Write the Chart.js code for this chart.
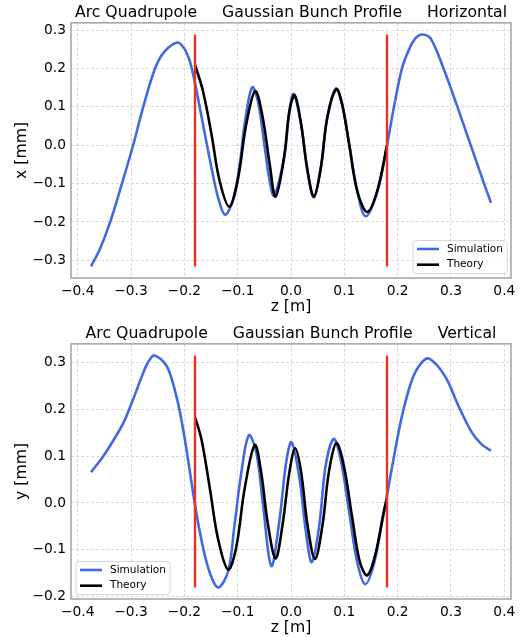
<!DOCTYPE html>
<html>
<head>
<meta charset="utf-8">
<script src="https://cdn.jsdelivr.net/npm/chart.js@4.4.1/dist/chart.umd.min.js"></script>
<style>
  html, body { margin: 0; padding: 0; background: #fff; }
  canvas { position: absolute; left: 0; }
  #top { top: 0; }
  #bottom { top: 321px; }
</style>
</head>
<body>
<canvas id="top" width="520" height="316"></canvas>
<canvas id="bottom" width="520" height="316"></canvas>
<script>
// horizontal plane: z [m] and x [mm]
const zSimH = [-0.375, -0.358, -0.339, -0.317, -0.296, -0.277, -0.255, -0.238, -0.213, -0.200,
  -0.190, -0.182, -0.171, -0.159, -0.146, -0.137, -0.124, -0.109, -0.096, -0.087,
  -0.073, -0.062, -0.050, -0.041, -0.032, -0.013, -0.003, 0.005, 0.019,
  0.031, 0.043, 0.056, 0.068, 0.084, 0.096, 0.109, 0.124, 0.140, 0.162,
  0.180, 0.193, 0.208, 0.222, 0.234, 0.246, 0.262, 0.286, 0.312, 0.337, 0.362, 0.375];
const xSim = [-0.316, -0.270, -0.200, -0.100, 0.000, 0.100, 0.200, 0.243, 0.268, 0.252,
  0.220, 0.175, 0.098, 0.011, -0.080, -0.135, -0.181, -0.144, -0.049, 0.054,
  0.151, 0.115, 0.003, -0.085, -0.131, -0.032, 0.089, 0.134, 0.054,
  -0.067, -0.136, -0.058, 0.072, 0.148, 0.106, 0.003, -0.118, -0.185, -0.120,
  0.000, 0.100, 0.200, 0.252, 0.280, 0.289, 0.278, 0.200, 0.100, 0.000, -0.100, -0.150];
const zThH = [-0.180, -0.165, -0.149, -0.134, -0.116, -0.100, -0.084, -0.067, -0.053, -0.040,
  -0.029, -0.013, -0.003, 0.007, 0.019, 0.031, 0.043, 0.056, 0.068, 0.085,
  0.096, 0.109, 0.124, 0.143, 0.162, 0.180];
const xTh = [0.210, 0.141, 0.028, -0.092, -0.160, -0.092, 0.054, 0.141, 0.072, -0.049,
  -0.134, -0.032, 0.089, 0.130, 0.054, -0.067, -0.134, -0.058, 0.072, 0.146,
  0.106, 0.003, -0.118, -0.174, -0.118, 0.000];

// vertical plane: z [m] and y [mm]
const zSimV = [-0.375, -0.355, -0.339, -0.314, -0.296, -0.277, -0.266, -0.256, -0.233, -0.215,
  -0.205, -0.196, -0.184, -0.171, -0.155, -0.137, -0.118, -0.106, -0.093, -0.079,
  -0.065, -0.053, -0.037, -0.022, -0.009, 0.001, 0.016, 0.028, 0.039, 0.053,
  0.065, 0.080, 0.093, 0.109, 0.124, 0.139, 0.155, 0.171, 0.180, 0.190,
  0.208, 0.227, 0.243, 0.259, 0.289, 0.314, 0.339, 0.357, 0.375];
const ySim = [0.066, 0.095, 0.123, 0.172, 0.222, 0.279, 0.305, 0.316, 0.293, 0.229,
  0.175, 0.115, 0.025, -0.062, -0.140, -0.181, -0.147, -0.048, 0.066, 0.145,
  0.108, 0.002, -0.135, -0.040, 0.087, 0.130, 0.052, -0.062, -0.127, -0.048,
  0.080, 0.137, 0.094, -0.019, -0.126, -0.174, -0.133, -0.040, 0.016, 0.080,
  0.186, 0.264, 0.298, 0.309, 0.271, 0.208, 0.151, 0.126, 0.112];
const zThV = [-0.180, -0.168, -0.152, -0.137, -0.118, -0.103, -0.087, -0.068, -0.056, -0.044,
  -0.029, -0.016, -0.003, 0.008, 0.019, 0.031, 0.045, 0.059, 0.071, 0.085,
  0.099, 0.115, 0.129, 0.143, 0.158, 0.174, 0.180];
const yTh = [0.184, 0.137, 0.030, -0.076, -0.143, -0.097, 0.030, 0.124, 0.066, -0.040,
  -0.119, -0.048, 0.066, 0.117, 0.066, -0.048, -0.120, -0.048, 0.066, 0.128,
  0.080, -0.033, -0.126, -0.155, -0.111, -0.019, 0.009];

// quadrupole edges [m]
const quadEdges = [-0.18, 0.18];

const zTicks = [-0.4, -0.3, -0.2, -0.1, 0.0, 0.1, 0.2, 0.3, 0.4];
const xTicks = [-0.3, -0.2, -0.1, 0.0, 0.1, 0.2, 0.3];
const yTicks = [-0.2, -0.1, 0.0, 0.1, 0.2, 0.3];

const FONT = "'DejaVu Sans', sans-serif";
const fmt = v => (v < 0 ? '\u2212' : '') + Math.abs(v).toFixed(1);
const pts = (xs, ys) => xs.map((x, i) => ({ x: x, y: ys[i] }));

// matplotlib style 5% margins
function limits(arr) {
    const lo = Math.min(...arr), hi = Math.max(...arr);
    const m = (hi - lo) * 0.05;
    return [lo - m, hi + m];
}

const frame = {
    id: "frame",
    afterDatasetsDraw(chart) {
        const { ctx, chartArea: a } = chart;
        ctx.save();
        ctx.strokeStyle = "#a8a8a8";
        ctx.lineWidth = 1.6;
        ctx.strokeRect(a.left, a.top, a.right - a.left, a.bottom - a.top);
        ctx.restore();
    }
};

const boxLegend = {
    id: "boxLegend",
    afterDraw(chart, args, opts) {
        const { ctx, chartArea: a } = chart;
        const items = chart.data.datasets.filter(d => d.label);
        const w = 94, h = 33;
        const x0 = opts.corner === "right" ? a.right - 4 - w : a.left + 5;
        const y0 = a.bottom - 4.5 - h;
        ctx.save();
        ctx.beginPath();
        ctx.roundRect(x0, y0, w, h, 3);
        ctx.fillStyle = "rgba(255,255,255,0.8)";
        ctx.fill();
        ctx.strokeStyle = "#d6d6d6";
        ctx.lineWidth = 1;
        ctx.stroke();
        ctx.font = "10.5px " + FONT;
        ctx.textBaseline = "middle";
        items.forEach((d, i) => {
            const y = y0 + 8.5 + i * 15.7;
            ctx.strokeStyle = d.borderColor;
            ctx.lineWidth = d.borderWidth;
            ctx.beginPath();
            ctx.moveTo(x0 + 4, y);
            ctx.lineTo(x0 + 26, y);
            ctx.stroke();
            ctx.fillStyle = "#000";
            ctx.fillText(d.label, x0 + 34, y);
        });
        ctx.restore();
    }
};

function makePanel(id, title, yLabel, zs, vs, zt, vt, vTicks, corner) {
    const zLim = limits(zs);
    const vLim = limits(vs);
    const lo = Math.min(...vs), hi = Math.max(...vs);
    const edgeSets = quadEdges.map(z => ({
        data: [{ x: z, y: lo }, { x: z, y: hi }],
        borderColor: "#ea3323",
        borderWidth: 2.4,
        pointRadius: 0,
        tension: 0,
        order: 1
    }));
    new Chart(document.getElementById(id).getContext("2d"), {
        type: "line",
        data: {
            datasets: [{
                label: "Simulation",
                data: pts(zs, vs),
                borderColor: "#4169e1",
                borderWidth: 2.6,
                pointRadius: 0,
                tension: 0.35,
                order: 3
            }, {
                label: "Theory",
                data: pts(zt, vt),
                borderColor: "#000000",
                borderWidth: 2.6,
                pointRadius: 0,
                tension: 0.35,
                order: 2
            }, ...edgeSets]
        },
        options: {
            responsive: false,
            animation: false,
            devicePixelRatio: 1,
            layout: { padding: { left: 0, right: 9, top: 0, bottom: 0 } },
            plugins: {
                legend: { display: false },
                tooltip: { enabled: false },
                title: {
                    display: true,
                    fullSize: false,
                    text: title,
                    color: "#000",
                    font: { family: FONT, size: 15.7, weight: "normal" },
                    padding: { top: 4, bottom: 0 }
                },
                boxLegend: { corner: corner }
            },
            scales: {
                x: {
                    type: "linear",
                    min: zLim[0],
                    max: zLim[1],
                    afterBuildTicks: s => { s.ticks = zTicks.map(v => ({ value: v })); },
                    afterFit: s => { s.height = 38; s.paddingLeft = 0; s.paddingRight = 0; },
                    grid: { color: "#cfcfcf", lineWidth: 0.8, drawTicks: false },
                    border: { display: false, dash: [3, 2] },
                    ticks: {
                        color: "#000",
                        padding: 5,
                        maxRotation: 0,
                        font: { family: FONT, size: 13.8 },
                        callback: v => fmt(v)
                    },
                    title: {
                        display: true,
                        text: "z [m]",
                        color: "#000",
                        font: { family: FONT, size: 15.7 },
                        padding: { top: 1, bottom: 0 }
                    }
                },
                y: {
                    min: vLim[0],
                    max: vLim[1],
                    afterBuildTicks: s => { s.ticks = vTicks.map(v => ({ value: v })); },
                    afterFit: s => { s.width = 71; s.paddingTop = 0; s.paddingBottom = 0; },
                    grid: { color: "#cfcfcf", lineWidth: 0.8, drawTicks: false },
                    border: { display: false, dash: [3, 2] },
                    ticks: {
                        color: "#000",
                        padding: 5,
                        font: { family: FONT, size: 13.8 },
                        callback: v => fmt(v)
                    },
                    title: {
                        display: true,
                        text: yLabel,
                        color: "#000",
                        font: { family: FONT, size: 15.7 },
                        padding: { top: 13, bottom: 0 }
                    }
                }
            }
        },
        plugins: [frame, boxLegend]
    });
}

makePanel("top", "Arc Quadrupole     Gaussian Bunch Profile     Horizontal", "x [mm]",
    zSimH, xSim, zThH, xTh, xTicks, "right");
makePanel("bottom", "Arc Quadrupole     Gaussian Bunch Profile     Vertical", "y [mm]",
    zSimV, ySim, zThV, yTh, yTicks, "left");
</script>
</body>
</html>
